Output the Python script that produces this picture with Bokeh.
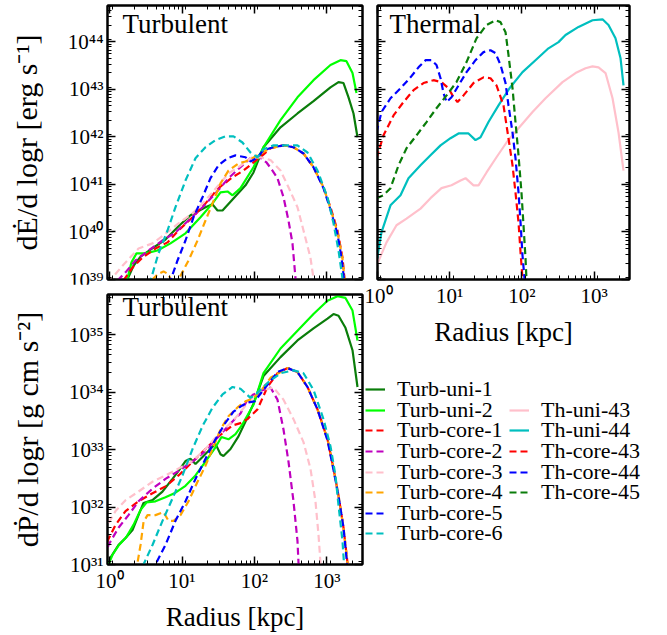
import numpy as np
from bokeh.plotting import figure
from bokeh.models import (Range1d, LogAxis, LogTicker, CustomJSTickFormatter, Label,
                          Legend, LegendItem, ColumnDataSource)
from bokeh.layouts import row, column
from bokeh.embed import file_html
from bokeh.resources import INLINE

FONT = "Liberation Serif"

# ---------------- data (log10 of radius [kpc], log10 of value) ----------------
# Top-left: Turbulent dE/dlogr [erg/s]
tu1_E_logr = [0.179,0.331,0.428,0.566,0.772,0.952,1.117,1.324,1.421,1.490,1.559,1.697,1.876,1.986,2.124,2.359,2.593,2.814,3.048,3.159,3.228,3.297,3.366,3.421]
tu1_E_logy = [38.77,39.29,39.48,39.63,39.84,40.12,40.35,40.52,40.58,40.45,40.45,40.68,40.98,41.25,41.78,42.20,42.49,42.75,43.04,43.15,43.13,42.83,42.49,41.99]
tu2_E_logr = [0.207,0.303,0.372,0.497,0.662,0.841,1.048,1.255,1.421,1.531,1.628,1.697,1.807,1.986,2.124,2.359,2.593,2.814,3.048,3.186,3.269,3.352,3.407]
tu2_E_logy = [38.77,39.36,39.55,39.55,39.61,39.76,39.97,40.31,40.60,40.83,40.85,40.77,40.92,41.36,41.78,42.35,42.83,43.19,43.51,43.61,43.59,43.34,42.92]
tc1_E_logr = [0.124,0.193,0.317,0.455,0.634,0.800,0.952,1.145,1.324,1.503,1.697,1.848,1.986,2.110,2.221,2.400,2.538,2.676,2.814,2.952,3.048,3.145,3.214,3.241,3.269]
tc1_E_logy = [38.77,38.98,39.25,39.46,39.65,39.78,40.03,40.31,40.60,40.92,41.15,41.29,41.46,41.61,41.76,41.82,41.78,41.65,41.36,40.94,40.52,40.03,39.46,39.02,38.66]
tc2_E_logr = [0.041,0.110,0.221,0.359,0.538,0.731,0.910,1.090,1.283,1.462,1.641,1.834,1.945,2.055,2.166,2.248,2.317,2.400,2.469,2.524,2.566,2.579]
tc2_E_logy = [38.77,38.98,39.15,39.40,39.61,39.82,39.99,40.24,40.52,40.81,41.13,41.40,41.55,41.59,41.46,41.29,41.13,40.73,40.24,39.76,39.02,38.66]
tc3_E_logr = [-0.028,0.041,0.179,0.400,0.593,0.745,0.952,1.145,1.324,1.503,1.641,1.779,1.945,2.083,2.221,2.359,2.469,2.593,2.676,2.772,2.814,2.841]
tc3_E_logy = [38.94,39.04,39.29,39.65,39.76,39.93,40.18,40.39,40.66,40.98,41.23,41.36,41.55,41.57,41.51,41.29,40.94,40.52,40.03,39.46,39.02,38.66]
tc4_E_logr = [0.538,0.593,0.662,0.745,0.814,0.883,0.952,1.090,1.214,1.324,1.421,1.531,1.641,1.779,1.876,1.972,2.083,2.221,2.400,2.538,2.676,2.814,2.952,3.048,3.145,3.214,3.241,3.269]
tc4_E_logy = [38.77,39.00,39.11,39.17,39.11,38.87,39.00,39.40,39.82,40.24,40.60,41.02,41.29,41.44,41.48,41.55,41.65,41.76,41.82,41.78,41.65,41.36,40.94,40.49,39.99,39.44,39.02,38.66]
tc5_E_logr = [0.814,0.841,0.938,1.048,1.159,1.283,1.393,1.503,1.628,1.738,1.876,1.945,2.028,2.124,2.262,2.400,2.538,2.676,2.814,2.952,3.048,3.145,3.200,3.234,3.255]
tc5_E_logy = [38.66,38.98,39.40,39.82,40.31,40.73,41.13,41.40,41.55,41.61,41.57,41.48,41.55,41.72,41.78,41.82,41.78,41.65,41.36,40.92,40.47,39.95,39.46,39.02,38.66]
tc6_E_logr = [0.538,0.566,0.676,0.800,0.910,1.048,1.186,1.324,1.462,1.600,1.710,1.834,1.945,2.041,2.124,2.262,2.455,2.593,2.731,2.869,3.007,3.090,3.159,3.214,3.228]
tc6_E_logy = [38.66,38.98,39.55,40.03,40.52,41.08,41.55,41.78,41.93,42.01,42.01,41.88,41.67,41.57,41.74,41.82,41.82,41.82,41.67,41.29,40.73,40.18,39.61,39.02,38.66]

# Top-right: Thermal dE/dlogr [erg/s]
th43u_logr = [-0.014,0.125,0.263,0.402,0.596,0.734,0.886,1.025,1.150,1.219,1.330,1.399,1.510,1.648,1.787,1.953,2.147,2.327,2.562,2.742,2.881,2.978,3.061,3.158,3.255,3.338,3.407]
th43u_logy = [39.29,39.78,40.14,40.28,40.49,40.71,40.92,40.98,41.08,41.13,40.98,40.98,41.25,41.57,41.88,42.18,42.52,42.81,43.15,43.34,43.44,43.48,43.46,43.34,42.81,42.09,41.29]
th44u_logr = [-0.014,0.055,0.180,0.319,0.429,0.596,0.734,0.873,1.011,1.122,1.260,1.357,1.427,1.537,1.676,1.828,2.008,2.188,2.368,2.507,2.604,2.784,2.978,3.116,3.199,3.296,3.366,3.407]
th44u_logy = [39.36,39.99,40.56,40.77,41.13,41.40,41.61,41.82,41.97,42.07,42.07,41.93,41.99,42.31,42.66,43.02,43.36,43.61,43.86,43.99,44.14,44.31,44.45,44.47,44.35,44.07,43.65,43.08]
th43c_logr = [-0.014,0.083,0.222,0.360,0.499,0.637,0.776,0.886,0.983,1.039,1.108,1.191,1.330,1.468,1.565,1.648,1.745,1.814,1.870,1.911,1.953,1.981,2.008,2.022]
th43c_logy = [41.55,42.03,42.45,42.73,42.98,43.13,43.19,43.15,43.02,42.87,42.73,42.87,43.13,43.25,43.23,43.08,42.66,41.97,41.40,40.83,40.20,39.57,39.02,38.66]
th44c_logr = [-0.014,0.055,0.180,0.319,0.457,0.568,0.665,0.748,0.817,0.873,0.914,0.956,1.025,1.122,1.233,1.357,1.468,1.565,1.634,1.704,1.773,1.814,1.870,1.911,1.953,1.981,2.008,2.036,2.050]
th44c_logy = [42.09,42.52,42.81,43.02,43.25,43.46,43.61,43.61,43.51,43.23,42.92,42.73,42.83,43.08,43.36,43.61,43.78,43.82,43.76,43.51,43.13,42.66,42.09,41.55,40.83,40.20,39.51,39.02,38.66]
th45c_logr = [-0.014,0.083,0.180,0.291,0.402,0.540,0.679,0.817,0.956,1.094,1.233,1.371,1.510,1.634,1.704,1.773,1.814,1.870,1.911,1.953,1.994,2.022,2.050,2.064,2.078]
th45c_logy = [40.71,40.77,40.92,41.40,41.76,42.03,42.31,42.60,42.87,43.15,43.57,44.07,44.35,44.45,44.41,44.20,43.72,43.02,42.31,41.61,40.83,40.14,39.44,38.98,38.66]

# Bottom-left: Turbulent dP/dlogr [g cm s^-2]
tu1_P_logr = [-0.041,0.014,0.124,0.221,0.317,0.400,0.469,0.593,0.731,0.869,0.952,1.048,1.117,1.186,1.283,1.366,1.462,1.531,1.572,1.669,1.779,1.876,1.986,2.124,2.359,2.593,2.814,3.007,3.090,3.159,3.255,3.352,3.421]
tu1_P_logy = [30.86,31.12,31.34,31.46,31.60,31.86,32.07,32.12,32.27,32.49,32.63,32.80,32.84,32.75,32.87,32.98,33.10,32.92,32.89,33.01,33.23,33.49,33.80,34.28,34.61,34.90,35.11,35.28,35.36,35.33,35.12,34.73,34.09]
tu2_P_logr = [-0.069,-0.014,0.041,0.124,0.234,0.331,0.428,0.510,0.634,0.772,0.910,1.048,1.186,1.324,1.462,1.545,1.641,1.738,1.834,1.986,2.124,2.359,2.593,2.814,3.007,3.145,3.255,3.352,3.421]
tu2_P_logy = [30.78,31.00,31.17,31.33,31.48,31.69,31.95,32.08,32.10,32.17,32.25,32.37,32.55,32.79,33.04,33.22,33.18,33.27,33.44,33.78,34.33,34.76,35.07,35.36,35.59,35.67,35.64,35.42,34.90]
tc1_P_logr = [-0.083,-0.028,0.083,0.221,0.400,0.593,0.772,0.952,1.145,1.324,1.503,1.697,1.807,1.903,2.041,2.179,2.317,2.455,2.593,2.731,2.869,3.007,3.090,3.159,3.228,3.283,3.297]
tc1_P_logy = [31.21,31.41,31.69,31.93,32.10,32.24,32.36,32.55,32.79,33.01,33.23,33.42,33.46,33.53,33.70,34.09,34.33,34.42,34.35,34.09,33.70,33.18,32.67,32.20,31.64,31.03,30.78]
tc2_P_logr = [-0.069,-0.014,0.124,0.262,0.400,0.593,0.772,0.952,1.145,1.324,1.503,1.697,1.807,1.903,1.986,2.124,2.221,2.317,2.400,2.469,2.538,2.593,2.607,2.621]
tc2_P_logy = [31.12,31.34,31.64,31.86,32.10,32.32,32.49,32.63,32.79,32.98,33.23,33.49,33.63,33.87,33.96,34.04,34.08,33.87,33.35,32.79,32.10,31.41,31.03,30.78]
tc3_P_logr = [-0.069,-0.028,0.083,0.221,0.400,0.593,0.772,0.952,1.145,1.324,1.503,1.697,1.945,2.124,2.262,2.400,2.538,2.676,2.772,2.841,2.883,2.910,2.924]
tc3_P_logy = [31.55,31.69,31.93,32.12,32.27,32.44,32.55,32.67,32.80,33.01,33.27,33.49,33.87,34.04,34.08,33.87,33.53,33.13,32.67,32.10,31.52,31.03,30.78]
tc4_P_logr = [0.372,0.386,0.428,0.469,0.524,0.634,0.745,0.814,0.883,0.979,1.090,1.214,1.324,1.421,1.531,1.641,1.779,1.876,1.972,2.083,2.221,2.455,2.593,2.731,2.869,3.007,3.090,3.159,3.228,3.283,3.297]
tc4_P_logy = [30.86,31.03,31.34,31.74,31.86,31.86,31.91,31.76,31.76,31.86,32.10,32.44,32.72,33.01,33.35,33.58,33.75,33.84,33.89,34.01,34.25,34.42,34.35,34.09,33.70,33.18,32.67,32.20,31.64,31.03,30.78]
tc5_P_logr = [0.607,0.634,0.772,0.910,1.048,1.186,1.324,1.462,1.600,1.710,1.807,1.903,2.000,2.124,2.317,2.455,2.593,2.731,2.869,3.007,3.090,3.159,3.228,3.276,3.297]
tc5_P_logy = [30.86,31.00,31.34,31.76,32.10,32.49,32.84,33.18,33.47,33.66,33.75,33.82,33.84,34.04,34.35,34.42,34.35,34.09,33.70,33.16,32.65,32.19,31.64,31.03,30.78]
tc6_P_logr = [0.441,0.469,0.593,0.731,0.869,1.007,1.145,1.283,1.421,1.559,1.697,1.807,1.945,2.028,2.179,2.359,2.538,2.676,2.814,2.952,3.048,3.117,3.159,3.214,3.234,3.241]
tc6_P_logy = [30.78,31.00,31.34,31.76,32.15,32.55,33.01,33.41,33.73,33.96,34.09,34.06,33.90,33.97,34.16,34.33,34.38,34.33,34.04,33.53,33.06,32.55,32.03,31.41,31.03,30.78]

turb_names = ["Turb-uni-1", "Turb-uni-2", "Turb-core-1", "Turb-core-2",
              "Turb-core-3", "Turb-core-4", "Turb-core-5", "Turb-core-6"]
turb_colors = ["#0a7d0a", "#00ff00", "#ff0000", "#bf00bf", "#ffc0cb", "#ffa500", "#0000ff", "#00bfbf"]
turb_dashes = ["solid", "solid", "7 4", "7 4", "7 4", "7 4", "7 4", "7 4"]
th_names = ["Th-uni-43", "Th-uni-44", "Th-core-43", "Th-core-44", "Th-core-45"]
th_colors = ["#ffc0cb", "#00bfbf", "#ff0000", "#0000ff", "#0a7d0a"]
th_dashes = ["solid", "solid", "7 4", "7 4", "7 4"]

turb_E = [(tu1_E_logr, tu1_E_logy), (tu2_E_logr, tu2_E_logy), (tc1_E_logr, tc1_E_logy),
          (tc2_E_logr, tc2_E_logy), (tc3_E_logr, tc3_E_logy), (tc4_E_logr, tc4_E_logy),
          (tc5_E_logr, tc5_E_logy), (tc6_E_logr, tc6_E_logy)]
turb_P = [(tu1_P_logr, tu1_P_logy), (tu2_P_logr, tu2_P_logy), (tc1_P_logr, tc1_P_logy),
          (tc2_P_logr, tc2_P_logy), (tc3_P_logr, tc3_P_logy), (tc4_P_logr, tc4_P_logy),
          (tc5_P_logr, tc5_P_logy), (tc6_P_logr, tc6_P_logy)]
th_E = [(th43u_logr, th43u_logy), (th44u_logr, th44u_logy), (th43c_logr, th43c_logy),
        (th44c_logr, th44c_logy), (th45c_logr, th45c_logy)]

# ---------------- helpers ----------------
fmt_code = """
const sup = {"0":"\u2070","1":"\u00b9","2":"\u00b2","3":"\u00b3","4":"\u2074","5":"\u2075",
             "6":"\u2076","7":"\u2077","8":"\u2078","9":"\u2079","-":"\u207b"};
const l = Math.log10(tick);
const e = Math.round(l);
if (Math.abs(l - e) > 1e-6) { return ""; }
return "10" + String(e).split("").map(c => sup[c]).join("");
"""


def style_axis(ax, labels):
    ax.ticker = LogTicker(num_minor_ticks=9)
    ax.formatter = CustomJSTickFormatter(code=fmt_code)
    ax.major_tick_in = 8
    ax.major_tick_out = 0
    ax.minor_tick_in = 4
    ax.minor_tick_out = 0
    ax.major_tick_line_width = 1.5
    ax.minor_tick_line_width = 1
    ax.major_tick_line_color = "black"
    ax.minor_tick_line_color = "black"
    ax.axis_line_color = "black"
    ax.axis_line_width = 2
    ax.axis_label_text_font = FONT
    ax.axis_label_text_font_style = "normal"
    ax.axis_label_text_font_size = "27px"
    ax.axis_label_text_color = "black"
    if labels:
        ax.major_label_text_font = FONT
        ax.major_label_text_font_size = "21px"
        ax.major_label_text_color = "black"
        ax.major_label_standoff = 4
    else:
        # tick marks only (matplotlib-style ticks on all four sides)
        ax.major_label_text_font_size = "0px"
        ax.major_label_text_color = None
        ax.major_label_standoff = 0


def make_fig(width, height, xr, yr, mbl, mbr, mbt, mbb):
    p = figure(width=width, height=height, x_axis_type="log", y_axis_type="log",
               x_range=xr, y_range=yr, toolbar_location=None, output_backend="svg",
               min_border_left=mbl, min_border_right=mbr, min_border_top=mbt,
               min_border_bottom=mbb)
    p.grid.visible = False
    p.outline_line_color = "black"
    p.outline_line_width = 2
    p.background_fill_color = "white"
    p.border_fill_color = "white"
    p.add_layout(LogAxis(), "right")
    p.add_layout(LogAxis(), "above")
    return p


def add_lines(p, series, colors, dashes):
    rs = []
    for (lr, ly), c, d in zip(series, colors, dashes):
        src = ColumnDataSource(dict(r=10 ** np.array(lr), v=10 ** np.array(ly)))
        rs.append(p.line("r", "v", source=src, line_color=c, line_width=2.2, line_dash=d))
    return rs


def panel_label(p, x, y, text):
    p.add_layout(Label(x=x, y=y, x_units="screen", y_units="screen", text=text,
                       text_font=FONT, text_font_size="27px", text_color="black",
                       text_baseline="alphabetic"))


yE = Range1d(1e39, 10 ** 44.76)
yP = Range1d(1e31, 10 ** 35.70)

# ---- top-left: turbulent energy (bottom part of its canvas is covered by row 2)
p1 = make_fig(364, 350, Range1d(0.938, 3090), yE, 107, 2, 5, 71)
add_lines(p1, turb_E, turb_colors, turb_dashes)
style_axis(p1.below[0], False)
style_axis(p1.left[0], True)
style_axis(p1.right[0], False)
style_axis(p1.above[0], False)
p1.left[0].axis_label = "dĖ/d logr [erg s\u207b\u00b9]"
p1.left[0].axis_label_text_font_size = "30px"
p1.left[0].axis_label_standoff = 22
panel_label(p1, 15, 256, "Turbulent")

# ---- top-right: thermal energy
p2 = make_fig(303, 350, Range1d(1.0, 3090), yE, 13, 38, 5, 71)
add_lines(p2, th_E, th_colors, th_dashes)
style_axis(p2.below[0], True)
style_axis(p2.left[0], False)
style_axis(p2.right[0], False)
style_axis(p2.above[0], False)
p2.below[0].axis_label = "Radius [kpc]"
p2.below[0].axis_label_standoff = 6
panel_label(p2, 12, 256, "Thermal")

# ---- bottom-left: turbulent momentum
p3 = make_fig(364, 351, Range1d(0.938, 3090), yP, 107, 2, 10, 71)
add_lines(p3, turb_P, turb_colors, turb_dashes)
style_axis(p3.below[0], True)
style_axis(p3.left[0], True)
style_axis(p3.right[0], False)
style_axis(p3.above[0], False)
p3.left[0].axis_label = "dṖ/d logr [g cm s\u207b\u00b2]"
p3.left[0].axis_label_text_font_size = "30px"
p3.left[0].axis_label_standoff = 22
p3.below[0].axis_label = "Radius [kpc]"
p3.below[0].axis_label_standoff = 6
panel_label(p3, 15, 258, "Turbulent")

# ---- legend panel (next to the bottom plot)
pleg = figure(width=303, height=351, x_range=Range1d(0, 1), y_range=Range1d(0, 1),
              toolbar_location=None, output_backend="svg",
              min_border_left=0, min_border_right=0, min_border_top=10, min_border_bottom=71,
              x_axis_location=None, y_axis_location=None)
pleg.grid.visible = False
pleg.outline_line_color = None
pleg.background_fill_color = None
pleg.border_fill_color = None

proxy_src = ColumnDataSource(dict(x=[np.nan], y=[np.nan]))

ROW_PITCH = 20.6      # px between legend rows
TOP_ROW_Y = 161.9     # px above the panel bottom of the first legend row box
COL_X = [1, 145]      # px from the panel left of each legend column


def legend_entry(name, color, dash, col, rw):
    r = pleg.line("x", "y", source=proxy_src, line_color=color, line_width=2.2, line_dash=dash)
    lg = Legend(items=[LegendItem(label=name, renderers=[r])],
                location=(COL_X[col], TOP_ROW_Y - ROW_PITCH * rw),
                padding=0, margin=0, spacing=0,
                border_line_color=None, background_fill_alpha=0,
                label_text_font=FONT, label_text_font_size="22px", label_text_color="black",
                glyph_width=20, glyph_height=18, label_height=18, label_standoff=12)
    pleg.add_layout(lg)


for i, (n, c, d) in enumerate(zip(turb_names, turb_colors, turb_dashes)):
    legend_entry(n, c, d, 0, i)
for j, (n, c, d) in enumerate(zip(th_names, th_colors, th_dashes)):
    legend_entry(n, c, d, 1, j + 1)

row2 = row(p3, pleg)
row2.margin = (-66, 0, 0, 0)
root = column(row(p1, p2), row2)

open("out.html", "w").write(file_html(root, INLINE))
